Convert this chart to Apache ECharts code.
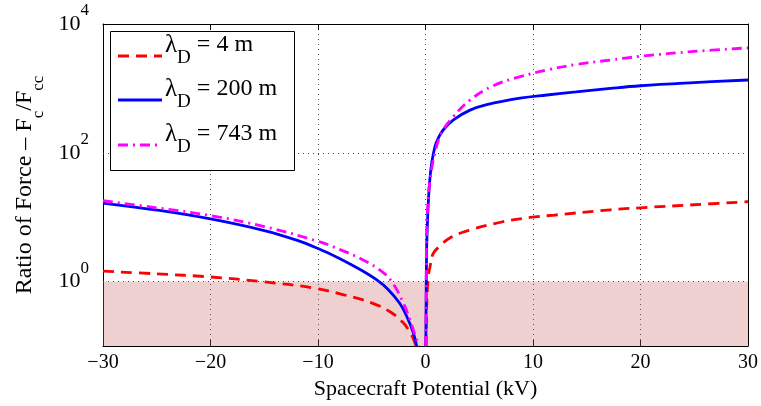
<!DOCTYPE html>
<html>
<head>
<meta charset="utf-8">
<script src="https://cdn.jsdelivr.net/npm/echarts@6/dist/echarts.min.js"></script>
<style>html,body{margin:0;padding:0;background:#fff;}#c{width:761px;height:406px;}</style>
</head>
<body>
<div id="c"></div>
<script>
// Data: [spacecraft potential (kV), ratio of force]
var lambda4 = [
  [-30,1.45],[-25,1.32],[-20,1.18],[-15,0.99],[-10.5,0.8],[-7.7,0.63],[-4.9,0.46],
  [-3.3,0.34],[-2.07,0.23],[-1.6,0.18],[-1.13,0.13],[-0.9,0.1],
  [0, null],
  [0.05,0.1],[0.12,0.45],[0.25,1.15],[0.42,1.7],[0.7,2.7],[1.2,3.4],[2.3,4.8],[4.1,6.3],
  [7.2,8.5],[9.7,9.9],[12,10.8],[17.2,13],[20,14],[25,15.6],[30,17.4]
];
var lambda200 = [
  [-30,16.6],[-25,12.9],[-20,9.4],[-15,6.2],[-12,4.4],[-10,3.26],[-8,2.29],[-6,1.51],
  [-4.5,1.05],[-3.5,0.76],[-2.4,0.46],[-1.75,0.29],[-1.13,0.16],[-0.82,0.1],
  [0, null],
  [0.03,0.1],[0.06,0.5],[0.1,2.8],[0.18,8],[0.26,16.7],[0.4,38],[0.58,70],[0.88,125],[1.2,170],
  [1.66,228],[2.6,325],[4.14,460],[5.7,560],[8.8,705],[11.3,790],[14,880],[17.2,1000],[20,1100],
  [25,1230],[30,1350]
];
var lambda743 = [
  [-30,18],[-25,14],[-20,10.6],[-15,7.16],[-10,4.22],[-8,3.17],[-5.8,2.17],[-3.9,1.37],
  [-3.0,0.92],[-2.07,0.47],[-1.44,0.254],[-0.82,0.124],[-0.63,0.1],
  [0, null],
  [0.03,0.1],[0.06,0.6],[0.1,5],[0.2,14],[0.42,38],[0.88,100],[1.5,205],[2.6,365],[4.14,660],
  [6.3,1100],[8.8,1520],[11.4,1950],[14,2350],[17.2,2760],[20,3150],[25,3750],[30,4260]
];
var seriesNames = ['4 m', '200 m', '743 m'];
var xTicks = [-30, -20, -10, 0, 10, 20, 30];
var gridLinesY = [1, 100];
var shadeRange = [0.1, 1];

var FONT = 'Liberation Serif';
var chart = echarts.init(document.getElementById('c'), null, {renderer: 'canvas'});

function legendRich() {
  return {
    l: {fontFamily: FONT, fontSize: 25, lineHeight: 45, color: '#000', verticalAlign: 'middle'},
    d: {fontFamily: FONT, fontSize: 19, lineHeight: 16, color: '#000', verticalAlign: 'bottom'},
    t: {fontFamily: FONT, fontSize: 24, lineHeight: 45, color: '#000', verticalAlign: 'middle'}
  };
}
var legendColors = ['#ff0000', '#0000ff', '#ff00ff'];
var legendDash = [[11, 7], null, [10, 5, 2, 5]];
var legendY = [56, 100, 145];
var graphics = [{
  type: 'rect', shape: {x: 110.5, y: 31.5, width: 184, height: 139},
  style: {fill: '#fff', stroke: '#000', lineWidth: 1}, z: 100
}];
seriesNames.forEach(function (n, i) {
  graphics.push({
    type: 'line', shape: {x1: 118, y1: legendY[i], x2: 162, y2: legendY[i]},
    style: {stroke: legendColors[i], lineWidth: 2.8, lineDash: legendDash[i]}, z: 101
  });
  graphics.push({
    type: 'text', x: 165, y: legendY[i] - 11,
    style: {text: '{l|λ}{d|D}{t| = ' + n + '}', rich: legendRich(), verticalAlign: 'middle', align: 'left'},
    z: 101
  });
});

function minus(v) { return String(v).replace('-', '\u2212'); }

chart.setOption({
  animation: false,
  backgroundColor: '#fff',
  grid: {left: 103, right: 13, top: 24, bottom: 60, containLabel: false},
  xAxis: [{
    type: 'value', min: -30, max: 30, interval: 10, position: 'bottom',
    axisLine: {show: true, onZero: false, lineStyle: {color: '#000', width: 1}},
    axisTick: {show: true, inside: true, length: 6, lineStyle: {color: '#000'}},
    axisLabel: {fontFamily: FONT, fontSize: 20, color: '#000', margin: 7, formatter: minus},
    splitLine: {show: true, lineStyle: {color: '#444', type: [1, 4], width: 1}},
    name: 'Spacecraft Potential (kV)', nameLocation: 'middle', nameGap: 29,
    nameTextStyle: {fontFamily: FONT, fontSize: 22, color: '#000', lineHeight: 22}
  }, {
    type: 'value', min: -30, max: 30, interval: 10, position: 'top',
    axisLine: {show: true, onZero: false, lineStyle: {color: '#000', width: 1}},
    axisTick: {show: true, inside: true, length: 6, lineStyle: {color: '#000'}},
    axisLabel: {show: false}, splitLine: {show: false}
  }],
  yAxis: [{
    type: 'log', logBase: 10, min: shadeRange[0], max: 10000,
    axisLine: {show: true, onZero: false, lineStyle: {color: '#000', width: 1}},
    axisTick: {show: false},
    axisLabel: {
      margin: 14, color: '#000',
      formatter: function (v) {
        var e = Math.round(Math.log(v) / Math.LN10);
        if (e % 2 !== 0) return '';
        return '{b|10}{s|' + e + '}';
      },
      rich: {
        b: {fontFamily: FONT, fontSize: 22, lineHeight: 44, color: '#000', verticalAlign: 'middle'},
        s: {fontFamily: FONT, fontSize: 17, lineHeight: 16, color: '#000', verticalAlign: 'top'}
      }
    },
    splitLine: {show: false},
    name: '{m|Ratio of Force \u2013 F}{s|c}{m|/F}{s|cc}', nameLocation: 'middle', nameGap: 56, nameRotate: 90,
    nameTextStyle: {
      rich: {
        m: {fontFamily: FONT, fontSize: 24, lineHeight: 44, color: '#000', verticalAlign: 'middle'},
        s: {fontFamily: FONT, fontSize: 17, lineHeight: 18, color: '#000', verticalAlign: 'bottom'}
      }
    }
  }, {
    type: 'log', logBase: 10, min: shadeRange[0], max: 10000, position: 'right',
    axisLine: {show: true, onZero: false, lineStyle: {color: '#000', width: 1}},
    axisTick: {show: false}, axisLabel: {show: false}, splitLine: {show: false}
  }],
  graphic: graphics,
  series: [{
    name: seriesNames[0], type: 'line', data: lambda4, showSymbol: false, symbol: 'none',
    smooth: 0.4, connectNulls: false,
    lineStyle: {color: legendColors[0], width: 2.8, type: legendDash[0]},
    markArea: {
      silent: true,
      itemStyle: {color: 'rgba(200,100,100,0.3)'},
      data: [[{yAxis: shadeRange[0]}, {yAxis: shadeRange[1]}]]
    },
    markLine: {
      silent: true, symbol: 'none', label: {show: false},
      lineStyle: {color: '#444', type: [1, 4], width: 1},
      data: gridLinesY.map(function (v) { return {yAxis: v}; })
    }
  }, {
    name: seriesNames[1], type: 'line', data: lambda200, showSymbol: false, symbol: 'none',
    smooth: 0.4, connectNulls: false,
    lineStyle: {color: legendColors[1], width: 2.8, type: 'solid'}
  }, {
    name: seriesNames[2], type: 'line', data: lambda743, showSymbol: false, symbol: 'none',
    smooth: 0.4, connectNulls: false,
    lineStyle: {color: legendColors[2], width: 2.8, type: legendDash[2]}
  }]
});
</script>
</body>
</html>
